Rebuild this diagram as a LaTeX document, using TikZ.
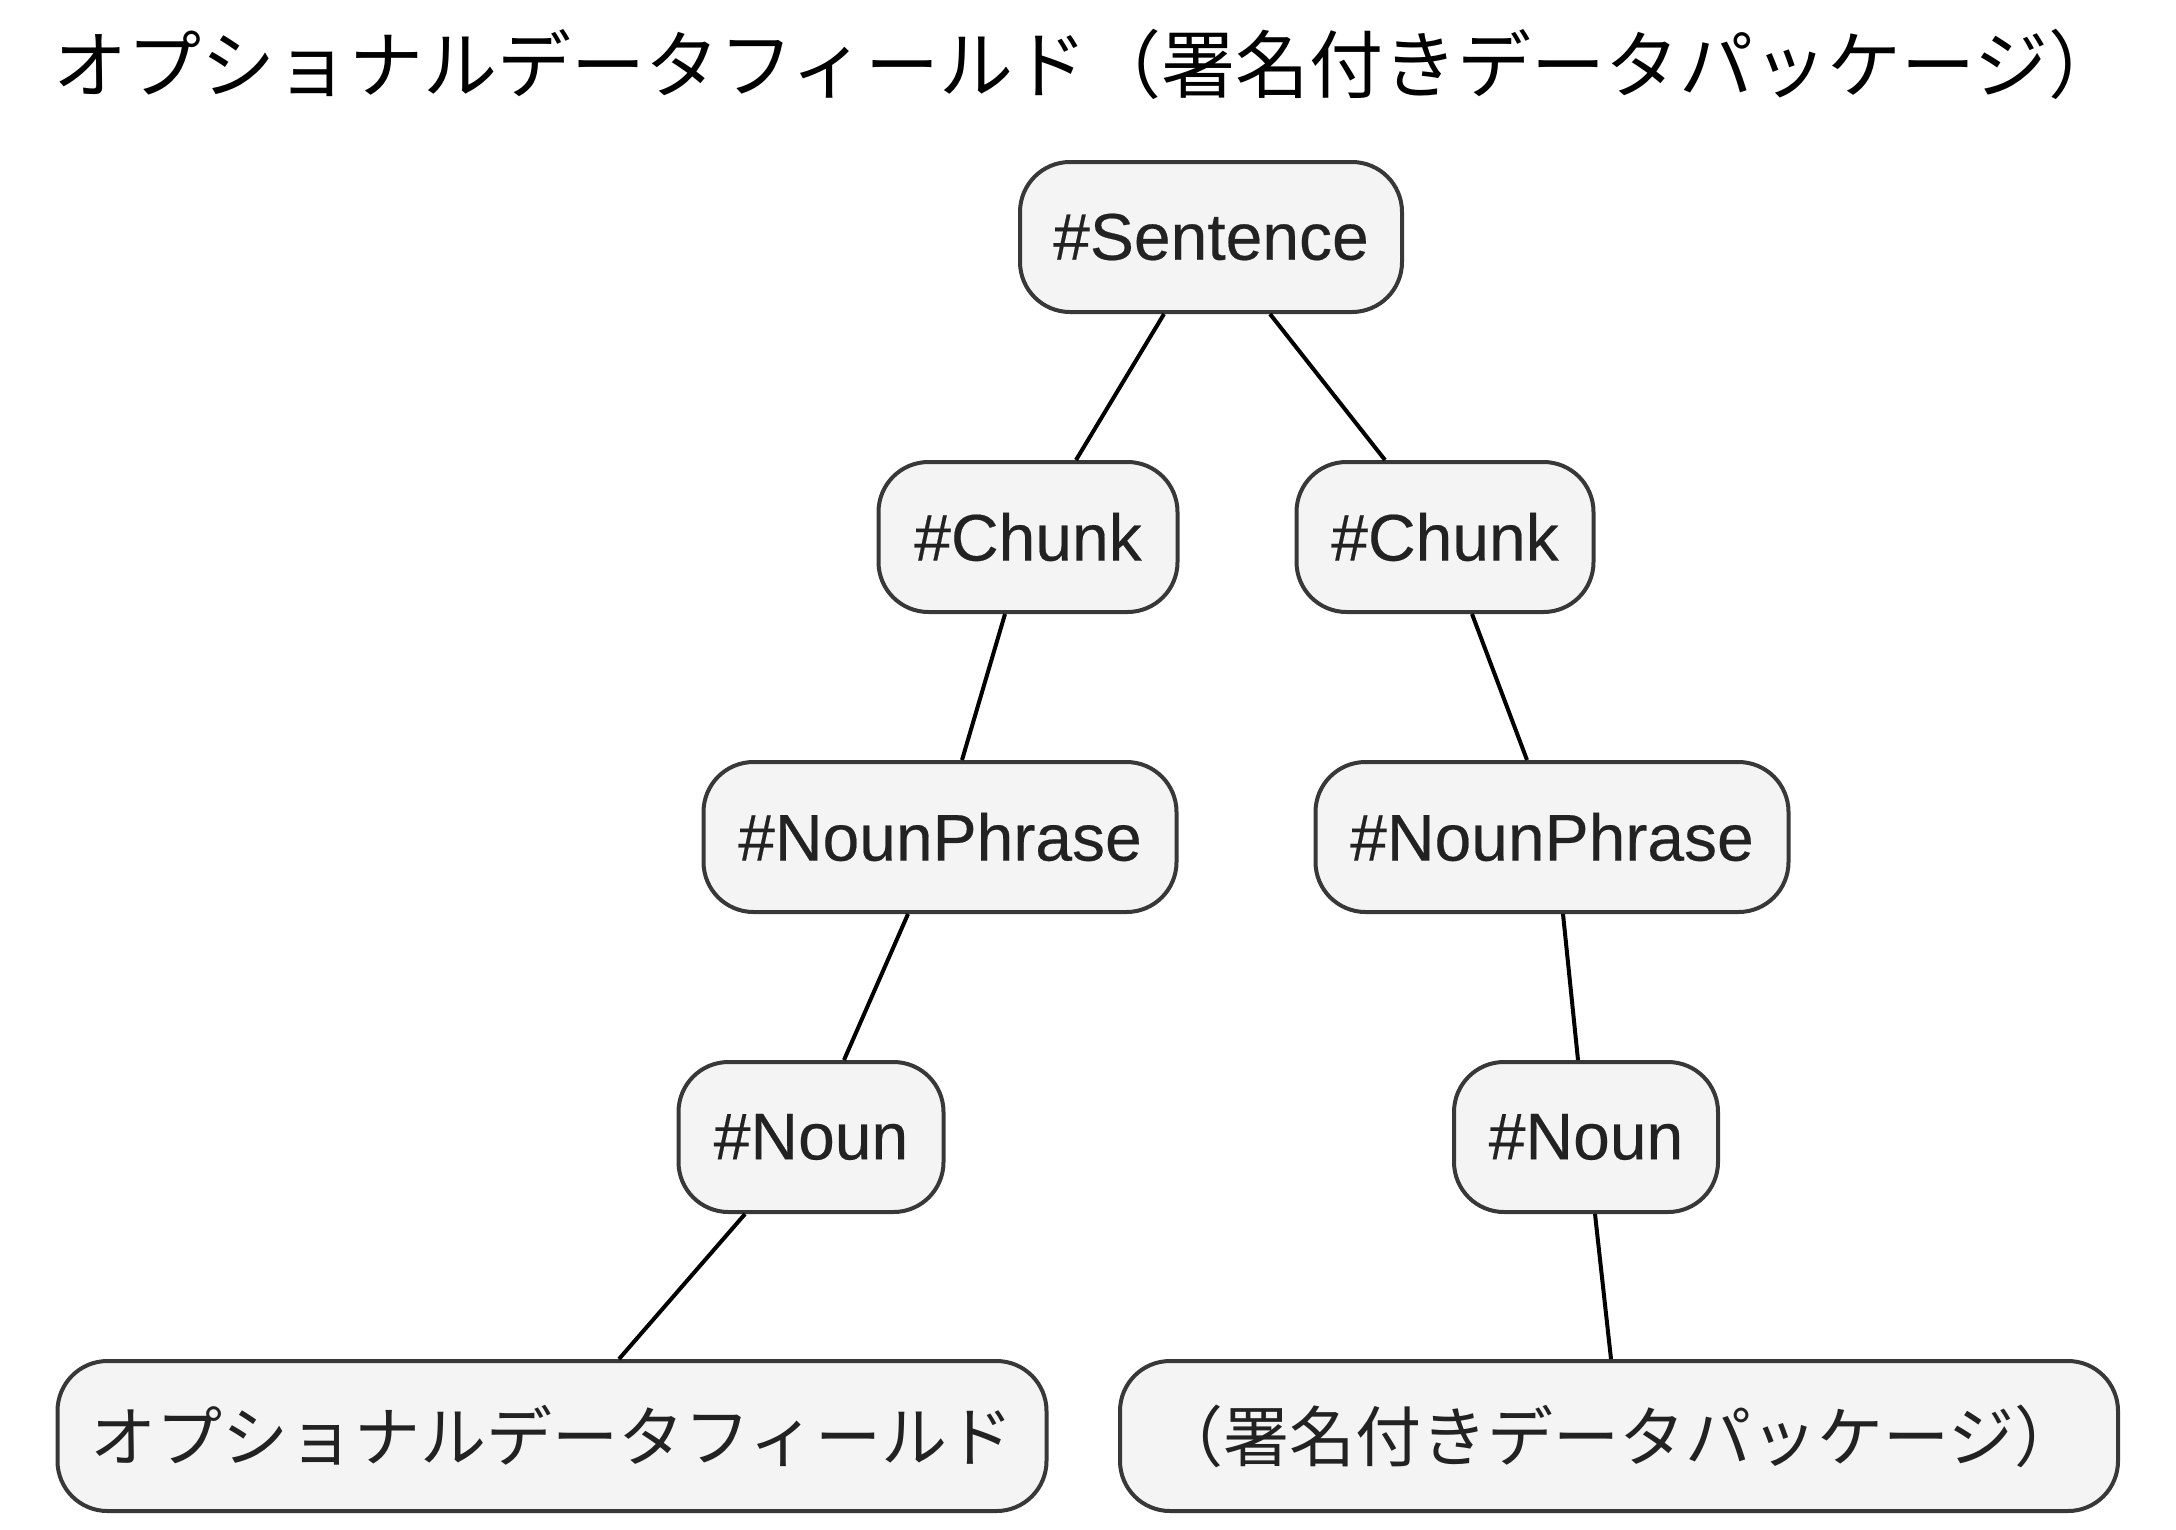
\documentclass[tikz,border=0pt]{standalone}
\usepackage{fontspec}
\setmainfont{Liberation Sans}
\newfontfamily\latfont{Liberation Sans}[FakeBold=0.3]
\newfontfamily\jpfont{Noto Sans CJK JP}
\definecolor{boxfill}{HTML}{F4F4F4}
\definecolor{boxline}{HTML}{383838}
\definecolor{txt}{HTML}{222222}
\begin{document}
\begin{tikzpicture}[x=1pt,y=-1pt,
  tnode/.style={draw=boxline, fill=boxfill, line width=4pt, rounded corners=50pt,
    minimum height=150pt, inner sep=0pt, text=txt, font=\latfont\fontsize{66}{70}\selectfont},
  jnode/.style={tnode, font=\jpfont\fontsize{66}{70}\selectfont},
  link/.style={line width=4pt, black}]
\useasboundingbox (0,0) rectangle (2176,1529);
\node[anchor=west, font=\jpfont\fontsize{74}{80}\selectfont, inner sep=0pt] (title) at (53,64) {オプショナルデータフィールド（署名付きデータパッケージ）};
\node[tnode, minimum width=382pt] (s) at (1211,237) {\#Sentence};
\node[tnode, minimum width=299pt] (c1) at (1028,537) {\#Chunk};
\node[tnode, minimum width=297pt] (c2) at (1445,537) {\#Chunk};
\node[tnode, minimum width=473pt] (np1) at (940,837) {\#NounPhrase};
\node[tnode, minimum width=473pt] (np2) at (1552,837) {\#NounPhrase};
\node[tnode, minimum width=265pt] (n1) at (811,1137) {\#Noun};
\node[tnode, minimum width=264pt] (n2) at (1586,1137) {\#Noun};
\node[jnode, minimum width=989pt] (b1) at (552,1436) {オプショナルデータフィールド};
\node[jnode, minimum width=998pt] (b2) at (1619,1436) {（署名付きデータパッケージ）};
\draw[link] ([xshift=-47pt]s.south) -- ([xshift=48pt]c1.north);
\draw[link] ([xshift=59pt]s.south) -- ([xshift=-60pt]c2.north);
\draw[link] ([xshift=-23pt]c1.south) -- ([xshift=22pt]np1.north);
\draw[link] ([xshift=27pt]c2.south) -- ([xshift=-25pt]np2.north);
\draw[link] ([xshift=-32pt]np1.south) -- ([xshift=33pt]n1.north);
\draw[link] ([xshift=11pt]np2.south) -- ([xshift=-8pt]n2.north);
\draw[link] ([xshift=-66pt]n1.south) -- ([xshift=67pt]b1.north);
\draw[link] ([xshift=9pt]n2.south) -- ([xshift=-8pt]b2.north);
\end{tikzpicture}
\end{document}
